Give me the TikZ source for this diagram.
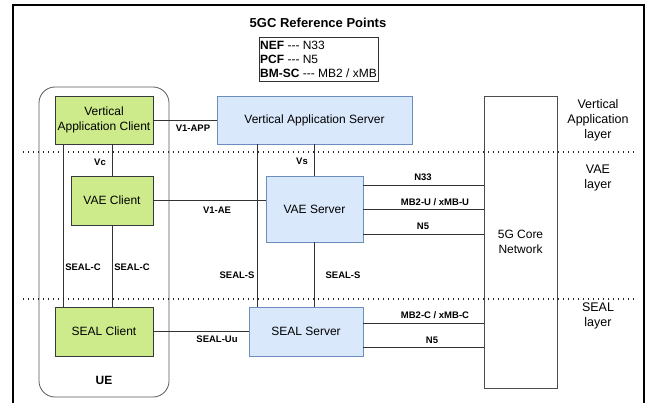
\documentclass[tikz,border=0pt]{standalone}
\usepackage{fontspec}
\setmainfont{Liberation Sans}
\definecolor{vgreen}{HTML}{CDEB8B}
\definecolor{vgreenline}{HTML}{36393D}
\definecolor{vblue}{HTML}{DAE8FC}
\definecolor{vblueline}{HTML}{6C8EBF}
\definecolor{conn}{HTML}{333333}
\begin{document}
\begin{tikzpicture}[x=1pt,y=-1pt,
  greenbox/.style={draw=vgreenline, fill=vgreen, line width=0.8pt, inner sep=0pt, align=center, font=\fontsize{12}{14.5}\selectfont},
  bluebox/.style={draw=vblueline, fill=vblue, line width=0.8pt, inner sep=0pt, align=center, font=\fontsize{12}{14.5}\selectfont},
  lab/.style={font=\bfseries\fontsize{9.5}{10}\selectfont, inner sep=0pt},
  layerlab/.style={font=\fontsize{12.5}{15}\selectfont, align=center, inner sep=0pt},
  wire/.style={draw=conn, line width=0.8pt},
  dots/.style={line width=1.4pt, dash pattern=on 1.4pt off 3.6pt, draw=black!85}
]
\useasboundingbox (0,0) rectangle (652,403);
% outer frame
\draw[line width=1.8pt] (13,410) -- (13,5) -- (644,5) -- (644,410);
% title and legend
\node[font=\bfseries\fontsize{13}{15}\selectfont, inner sep=0pt] (title) at (318,23) {5GC Reference Points};
\node[draw=black!80, line width=0.8pt, align=left, inner sep=1pt, minimum width=119, minimum height=44, font=\fontsize{12}{14}\selectfont] (legend) at (318.5,59)
  {\textbf{NEF} -\kern0pt-\kern0pt- N33\\\textbf{PCF} -\kern0pt-\kern0pt- N5\\\textbf{BM-SC} -\kern0pt-\kern0pt- MB2 / xMB};
% UE container
\draw[draw=black!65, line width=0.8pt, rounded corners=16] (39,87) rectangle (169,397);
\node[font=\bfseries\fontsize{12}{14}\selectfont, inner sep=0pt] (ue) at (104,380) {UE};
% nodes
\node[greenbox, minimum width=98, minimum height=48] (VAC) at (104,120) {Vertical\\Application Client};
\node[greenbox, minimum width=82, minimum height=49] (VAEC) at (112,200.5) {VAE Client};
\node[greenbox, minimum width=98, minimum height=49] (SEALC) at (104,331.5) {SEAL Client};
\node[bluebox, minimum width=195, minimum height=48] (VAS) at (314.5,120) {Vertical Application Server};
\node[bluebox, minimum width=97, minimum height=66] (VAES) at (314.5,209) {VAE Server};
\node[bluebox, minimum width=114, minimum height=49] (SEALS) at (306,331.5) {SEAL Server};
\node[draw=black!70, fill=white, line width=0.8pt, minimum width=73, minimum height=292, inner sep=0pt, align=center, font=\fontsize{12}{15}\selectfont] (CN) at (520.5,242) {5G Core\\Network};
% connectors
\draw[wire] (VAC.east) -- (VAS.west);
\draw[wire] (VAEC.north |- VAC.south) -- (VAEC.north);
\draw[wire] ([xshift=9]VAC.south west) -- ([xshift=9]SEALC.north west);
\draw[wire] (VAEC.south) -- (VAEC.south |- SEALC.north);
\draw[wire] (VAEC.east) -- (VAEC.east -| VAES.west);
\draw[wire] (VAES.north |- VAS.south) -- (VAES.north);
\draw[wire] ([xshift=41]VAS.south west) -- ([xshift=41]VAS.south west |- SEALS.north);
\draw[wire] (VAES.south) -- (VAES.south |- SEALS.north);
\draw[wire] (SEALC.east) -- (SEALC.east -| SEALS.west);
\draw[wire] ([yshift=24]VAES.east) -- ([yshift=24]VAES.east -| CN.west);
\draw[wire] (VAES.east) -- (VAES.east -| CN.west);
\draw[wire] ([yshift=-25]VAES.east) -- ([yshift=-25]VAES.east -| CN.west);
\draw[wire] ([yshift=8.5]SEALS.east) -- ([yshift=8.5]SEALS.east -| CN.west);
\draw[wire] ([yshift=-15.5]SEALS.east) -- ([yshift=-15.5]SEALS.east -| CN.west);
% connector labels
\node[lab] (lv1app) at (193,128) {V1-APP};
\node[lab] (lvc) at (100,162) {Vc};
\node[lab] (lsealc1) at (83,267) {SEAL-C};
\node[lab] (lsealc2) at (132,267) {SEAL-C};
\node[lab] (lv1ae) at (217,210) {V1-AE};
\node[lab] (lvs) at (302,161) {Vs};
\node[lab] (lseals1) at (237,275) {SEAL-S};
\node[lab] (lseals2) at (343,275) {SEAL-S};
\node[lab] (lsealuu) at (217,339) {SEAL-Uu};
\node[lab] (ln33) at (423,177) {N33};
\node[lab] (lmbu) at (435,202) {MB2-U / xMB-U};
\node[lab] (ln5a) at (423,226) {N5};
\node[lab] (lmbc) at (435,315) {MB2-C / xMB-C};
\node[lab] (ln5b) at (432,340) {N5};
% layer separators
\draw[dots] (23,152) -- (634,152);
\draw[dots] (23,299) -- (634,299);
% layer labels
\node[layerlab] (l1) at (598,120) {Vertical\\Application\\layer};
\node[layerlab] (l2) at (598,178) {VAE\\layer};
\node[layerlab] (l3) at (598,316) {SEAL\\layer};
\end{tikzpicture}
\end{document}
